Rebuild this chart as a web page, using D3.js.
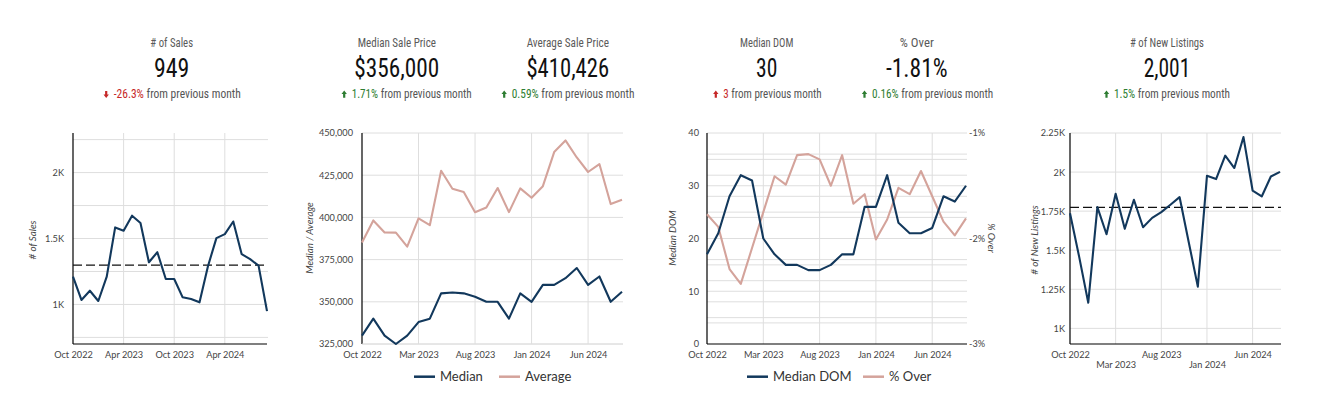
<!DOCTYPE html>
<html><head><meta charset="utf-8">
<script src="https://cdn.jsdelivr.net/npm/d3@7"></script>
<style>
html,body{margin:0;padding:0;background:#fff;}
svg{display:block;}
</style></head><body>
<svg id="c" width="1326" height="419"></svg>
<script>
// ---------- DATA ----------
const months = ["2022-10","2022-11","2022-12","2023-01","2023-02","2023-03","2023-04","2023-05","2023-06","2023-07","2023-08","2023-09",
                "2023-10","2023-11","2023-12","2024-01","2024-02","2024-03","2024-04","2024-05","2024-06","2024-07","2024-08","2024-09"];
const salesCount = [1211,1034,1104,1026,1211,1584,1559,1673,1617,1320,1396,1193,1193,1054,1041,1016,1290,1503,1533,1629,1381,1343,1294,949];
const medianPrice = [330000,340000,330000,325000,330000,338000,340000,355000,355500,355000,353000,350000,350000,340000,355000,350000,360000,360000,364000,370000,360000,365000,350000,356000];
const averagePrice = [385100,398200,391100,391000,382700,399400,395400,427600,417000,415000,403100,405900,417400,403100,417200,411600,418500,438700,445600,435500,426900,431600,407900,410426];
const medianDOM = [17,21,28,32,31,20,17,15,15,14,14,15,17,17,26,26,32,23,21,21,22,28,27,30];
const pctOver = [-1.77,-1.89,-2.29,-2.43,-2.09,-1.75,-1.41,-1.49,-1.21,-1.20,-1.25,-1.50,-1.21,-1.67,-1.58,-2.01,-1.82,-1.52,-1.58,-1.36,-1.60,-1.84,-1.97,-1.81];
const newListings = [1737,1459,1164,1776,1602,1861,1637,1823,1647,1707,1744,1791,1840,1553,1267,1976,1955,2105,2026,2224,1882,1844,1972,2001];

const salesTicks = [1000,1500,2000];
const salesGrid = [750,1000,1250,1500,1750,2000,2250];
const salesXTicks = ["2022-10","2023-04","2023-10","2024-04"];
const xTicks = ["2022-10","2023-03","2023-08","2024-01","2024-06"];
const priceTicks = [325000,350000,375000,400000,425000,450000];
const domTicks = [0,10,20,30,40];
const domGrid = [5,10,15,20,25,30,35];
const overTicks = [-3,-2,-1];
const overGrid = [-2.8,-2.6,-2.4,-2.2,-1.8,-1.6,-1.4,-1.2];
const listingTicks = [1000,1250,1500,1750,2000,2250];

const kpiTitles = ["# of Sales","Median Sale Price","Average Sale Price","Median DOM","% Over","# of New Listings"];
const kpiValues = ["949","$356,000","$410,426","30","-1.81%","2,001"];
const kpiChanges = ["-26.3%","1.71%","0.59%","3","0.16%","1.5%"];
const kpiDirections = ["down","up","up","up","up","up"];
const kpiPositive = [false,true,true,false,true,true];

const legend2 = ["Median","Average"];
const legend3 = ["Median DOM","% Over"];

// ---------- STYLE ----------
const NAVY = "#12385c", PINK = "#d4a39b", GRID = "#dedede", TXT = "#444";
const RED = "#c62828", GREEN = "#2e7d32";
const AX_FONT = "Lato, 'Open Sans', sans-serif";
const HEAD_FONT = "'Liberation Sans Narrow','Roboto Condensed','DejaVu Sans Condensed','Liberation Sans',sans-serif";
const TOP = 133, BOT = 344;

const parse = d3.timeParse("%Y-%m");
const fmtMonth = m => d3.timeFormat("%b %Y")(parse(m));
const fmtK = d => (d/1000) + "K";

const svg = d3.select("#c");

// ---------- HEADERS ----------
const kpiCenter = [171.7, 396.8, 567.8, 766.7, 916.8, 1167];
const kpiTitleW = [42.7, 78.3, 82.3, 53.3, 34, 74];
const kpiValueW = [35.3, 85, 82.7, 21.3, 61.7, 46.7];
const kpiSubStart = [113.7, 351.7, 511.7, 723.3, 872, 1114];
const kpiSubW = [127, 120, 122.7, 98.3, 121.3, 116];

kpiTitles.forEach((t, i) => {
  svg.append("text").attr("x", kpiCenter[i]).attr("y", 46.5).attr("text-anchor", "middle")
    .attr("font-family", HEAD_FONT).attr("font-size", 12.5).attr("fill", "#5a5a5a")
    .attr("textLength", kpiTitleW[i]).attr("lengthAdjust", "spacingAndGlyphs").text(t);
  svg.append("text").attr("x", kpiCenter[i]).attr("y", 77.4).attr("text-anchor", "middle")
    .attr("font-family", HEAD_FONT).attr("font-size", 25).attr("fill", "#111")
    .attr("textLength", kpiValueW[i]).attr("lengthAdjust", "spacingAndGlyphs").text(kpiValues[i]);
  const col = kpiPositive[i] ? GREEN : RED;
  const st = svg.append("text").attr("x", kpiSubStart[i]).attr("y", 98.3)
    .attr("font-family", HEAD_FONT).attr("font-size", 12).attr("fill", "#555")
    .attr("textLength", kpiSubW[i]).attr("lengthAdjust", "spacingAndGlyphs");
  st.append("tspan").attr("fill", col).text(kpiChanges[i]);
  st.append("tspan").text(" from previous month");
  // arrow icon
  const ax = kpiSubStart[i] - 7.5, ay = 94.3;
  const up = "M0,-3.8 L2.7,-0.3 L1.1,-0.3 L1.1,3.4 L-1.1,3.4 L-1.1,-0.3 L-2.7,-0.3 Z";
  svg.append("path").attr("d", up).attr("fill", col)
    .attr("transform", `translate(${ax},${ay}) ${kpiDirections[i] === "down" ? "rotate(180)" : ""}`);
});

// ---------- helpers ----------
function hGrid(g, y, vals, x0, x1) {
  g.selectAll(null).data(vals).enter().append("line")
    .attr("x1", x0).attr("x2", x1).attr("y1", d => y(d)).attr("y2", d => y(d))
    .attr("stroke", GRID).attr("stroke-width", 1);
}
function vGrid(g, x, vals) {
  g.selectAll(null).data(vals).enter().append("line")
    .attr("x1", d => x(d)).attr("x2", d => x(d)).attr("y1", TOP).attr("y2", BOT)
    .attr("stroke", GRID).attr("stroke-width", 1);
}
function styleAxis(sel) {
  sel.select(".domain").remove();
  sel.selectAll("text").attr("font-family", AX_FONT).attr("font-size", 9.2).attr("fill", TXT);
}
function axisTitle(x, y, text, rot) {
  svg.append("text").attr("transform", `translate(${x},${y}) rotate(${rot})`)
    .attr("text-anchor", "middle").attr("dy", "0.35em")
    .attr("font-family", AX_FONT).attr("font-size", 9.8).attr("font-style", "italic")
    .attr("fill", TXT).text(text);
}
function drawLine(g, x, y, vals, color) {
  g.append("path").datum(vals)
    .attr("d", d3.line().x((d, i) => x(months[i])).y(d => y(d)))
    .attr("fill", "none").attr("stroke", color).attr("stroke-width", 2.1)
    .attr("stroke-linejoin", "round");
}
function frame(g, x0, x1, bottomColor) {
  g.append("line").attr("x1", x0).attr("x2", x0).attr("y1", TOP).attr("y2", BOT).attr("stroke", "#000").attr("stroke-width", 1.2);
  g.append("line").attr("x1", x0).attr("x2", x1).attr("y1", BOT).attr("y2", BOT).attr("stroke", bottomColor).attr("stroke-width", bottomColor === "#000" ? 1.2 : 1);
}
function legend(items, colors, xs) {
  items.forEach((t, i) => {
    svg.append("line").attr("x1", xs[i]).attr("x2", xs[i] + 21).attr("y1", 376.7).attr("y2", 376.7)
      .attr("stroke", colors[i]).attr("stroke-width", 2.5);
    svg.append("text").attr("x", xs[i] + 26).attr("y", 376.7).attr("dy", "0.35em")
      .attr("font-family", AX_FONT).attr("font-size", 13).attr("fill", "#333").text(t);
  });
}

// ---------- CHART 1: # of Sales ----------
{
  const g = svg.append("g");
  const x = d3.scalePoint().domain(months).range([73, 267]);
  const y = d3.scaleLinear().domain([700, 2300]).range([BOT, TOP]);
  hGrid(g, y, salesGrid, 73, 268);
  vGrid(g, x, salesXTicks.slice(1));
  frame(g, 73, 267, "#000");
  g.append("g").attr("transform", "translate(73,0)")
    .call(d3.axisLeft(y).tickValues(salesTicks).tickFormat(fmtK).tickSize(0).tickPadding(9)).call(styleAxis);
  g.append("g").attr("transform", `translate(0,${BOT})`)
    .call(d3.axisBottom(x).tickValues(salesXTicks).tickFormat(fmtMonth).tickSize(0).tickPadding(7)).call(styleAxis);
  const avg = d3.mean(salesCount);
  g.append("line").attr("x1", 73).attr("x2", 268).attr("y1", y(avg)).attr("y2", y(avg))
    .attr("stroke", "#111").attr("stroke-width", 1.3).attr("stroke-dasharray", "9,4");
  drawLine(g, x, y, salesCount, NAVY);
  axisTitle(33, 240, "# of Sales", -90);
}

// ---------- CHART 2: Median / Average price ----------
{
  const g = svg.append("g");
  const x = d3.scalePoint().domain(months).range([362, 622]);
  const y = d3.scaleLinear().domain([325000, 450000]).range([BOT, TOP]);
  hGrid(g, y, priceTicks, 362, 623);
  vGrid(g, x, xTicks.slice(1));
  frame(g, 362, 623, GRID);
  g.append("g").attr("transform", "translate(362,0)")
    .call(d3.axisLeft(y).tickValues(priceTicks).tickFormat(d3.format(",")).tickSize(0).tickPadding(9)).call(styleAxis);
  g.append("g").attr("transform", `translate(0,${BOT})`)
    .call(d3.axisBottom(x).tickValues(xTicks).tickFormat(fmtMonth).tickSize(0).tickPadding(7)).call(styleAxis);
  drawLine(g, x, y, averagePrice, PINK);
  drawLine(g, x, y, medianPrice, NAVY);
  axisTitle(310, 238, "Median / Average", -90);
  legend(legend2, [NAVY, PINK], [414, 499]);
}

// ---------- CHART 3: Median DOM / % Over ----------
{
  const g = svg.append("g");
  const x = d3.scalePoint().domain(months).range([707, 966]);
  const y = d3.scaleLinear().domain([0, 40]).range([BOT, TOP]);
  const y2 = d3.scaleLinear().domain([-3, -1]).range([BOT, TOP]);
  hGrid(g, y, domGrid.concat([40]), 707, 967);
  hGrid(g, y2, overGrid, 707, 967);
  vGrid(g, x, xTicks.slice(1));
  frame(g, 707, 967, "#000");
  g.append("g").attr("transform", "translate(707,0)")
    .call(d3.axisLeft(y).tickValues(domTicks).tickSize(0).tickPadding(8)).call(styleAxis);
  g.append("g").attr("transform", "translate(966,0)")
    .call(d3.axisRight(y2).tickValues(overTicks).tickFormat(d => d + "%").tickSize(0).tickPadding(3)).call(styleAxis);
  g.append("g").attr("transform", `translate(0,${BOT})`)
    .call(d3.axisBottom(x).tickValues(xTicks).tickFormat(fmtMonth).tickSize(0).tickPadding(7)).call(styleAxis);
  drawLine(g, x, y2, pctOver, PINK);
  drawLine(g, x, y, medianDOM, NAVY);
  axisTitle(673, 238, "Median DOM", -90);
  axisTitle(991, 238, "% Over", 90);
  legend(legend3, [NAVY, PINK], [747, 863]);
}

// ---------- CHART 4: # of New Listings ----------
{
  const g = svg.append("g");
  const x = d3.scalePoint().domain(months).range([1070, 1280]);
  const y = d3.scaleLinear().domain([900, 2250]).range([BOT, TOP]);
  hGrid(g, y, listingTicks, 1070, 1281);
  vGrid(g, x, xTicks.slice(1));
  frame(g, 1070, 1281, "#000");
  g.append("g").attr("transform", "translate(1070,0)")
    .call(d3.axisLeft(y).tickValues(listingTicks).tickFormat(fmtK).tickSize(0).tickPadding(5)).call(styleAxis);
  const xa = g.append("g").attr("transform", `translate(0,${BOT})`)
    .call(d3.axisBottom(x).tickValues(xTicks).tickFormat(fmtMonth).tickSize(0).tickPadding(7)).call(styleAxis);
  xa.selectAll(".tick text").attr("y", (d, i) => i % 2 ? 17 : 7);
  const avg = d3.mean(newListings);
  g.append("line").attr("x1", 1070).attr("x2", 1281).attr("y1", y(avg)).attr("y2", y(avg))
    .attr("stroke", "#111").attr("stroke-width", 1.3).attr("stroke-dasharray", "9,4");
  drawLine(g, x, y, newListings, NAVY);
  axisTitle(1035, 240, "# of New Listings", -90);
}
</script>
</body></html>
